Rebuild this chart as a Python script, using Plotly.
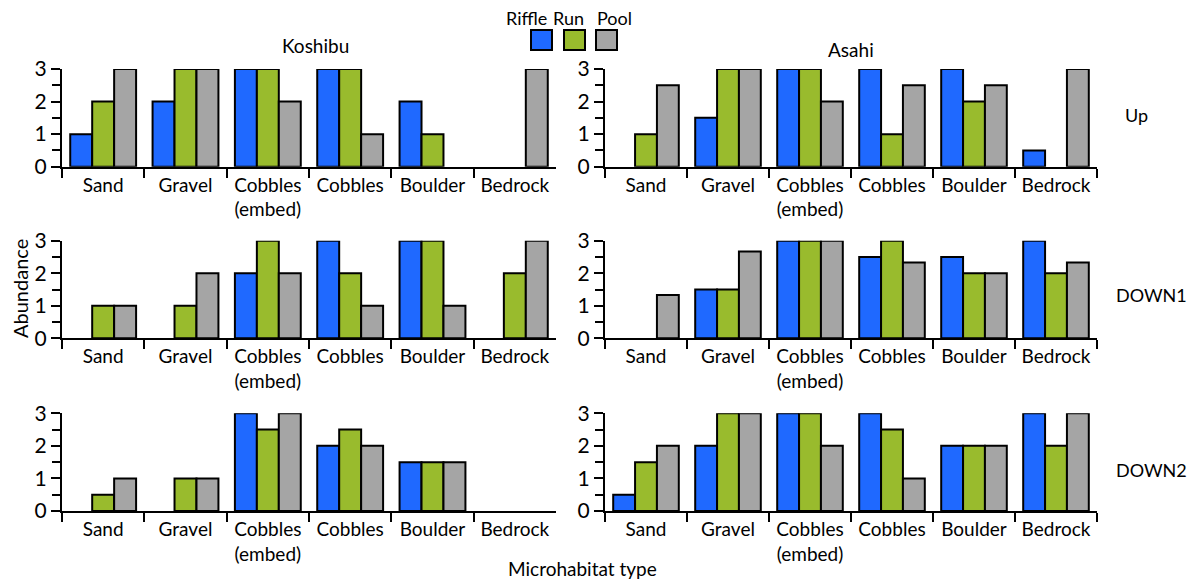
import plotly.graph_objects as go

W, H = 1195, 583
OFF = 8  # page body margin
WF, HF = W - OFF, H - OFF

categories = ["Sand", "Gravel", "Cobbles<br>(embed)", "Cobbles", "Boulder", "Bedrock"]
series_names = ["Riffle", "Run", "Pool"]
colors = ["#1f69ff", "#99bb2d", "#a5a5a5"]
sites = ["Koshibu", "Asahi"]
positions = ["Up", "DOWN1", "DOWN2"]

# Koshibu values (Riffle, Run, Pool) per category
koshibu_up_riffle = [1, 2, 3, 3, 2, 0]
koshibu_up_run = [2, 3, 3, 3, 1, 0]
koshibu_up_pool = [3, 3, 2, 1, 0, 3]

koshibu_down1_riffle = [0, 0, 2, 3, 3, 0]
koshibu_down1_run = [1, 1, 3, 2, 3, 2]
koshibu_down1_pool = [1, 2, 2, 1, 1, 3]

koshibu_down2_riffle = [0, 0, 3, 2, 1.5, 0]
koshibu_down2_run = [0.5, 1, 2.5, 2.5, 1.5, 0]
koshibu_down2_pool = [1, 1, 3, 2, 1.5, 0]

# Asahi values
asahi_up_riffle = [0, 1.5, 3, 3, 3, 0.5]
asahi_up_run = [1, 3, 3, 1, 2, 0]
asahi_up_pool = [2.5, 3, 2, 2.5, 2.5, 3]

asahi_down1_riffle = [0, 1.5, 3, 2.5, 2.5, 3]
asahi_down1_run = [0, 1.5, 3, 3, 2, 2]
asahi_down1_pool = [1.33, 2.67, 3, 2.33, 2, 2.33]

asahi_down2_riffle = [0.5, 2, 3, 3, 2, 3]
asahi_down2_run = [1.5, 3, 3, 2.5, 2, 2]
asahi_down2_pool = [2, 3, 2, 1, 2, 3]

panels = {
    (0, 0): [koshibu_up_riffle, koshibu_up_run, koshibu_up_pool],
    (1, 0): [koshibu_down1_riffle, koshibu_down1_run, koshibu_down1_pool],
    (2, 0): [koshibu_down2_riffle, koshibu_down2_run, koshibu_down2_pool],
    (0, 1): [asahi_up_riffle, asahi_up_run, asahi_up_pool],
    (1, 1): [asahi_down1_riffle, asahi_down1_run, asahi_down1_pool],
    (2, 1): [asahi_down2_riffle, asahi_down2_run, asahi_down2_pool],
}

FONT = "Lato"


def px(x):
    return (x - OFF) / WF


def py(y):
    return 1 - (y - OFF) / HF


col_x = [(62, 556), (605, 1097)]
row_y = [(69, 166.7), (240.7, 338.3), (413.3, 511)]

fig = go.Figure()
layout = dict(
    template="none",
    width=WF, height=HF,
    margin=dict(l=0, r=0, t=0, b=0, pad=0, autoexpand=False),
    paper_bgcolor="white", plot_bgcolor="white",
    barmode="group", bargap=0.2, bargroupgap=0,
    showlegend=False,
    font=dict(family=FONT, size=18, color="black"),
)

idx = 0
for r in range(3):
    for c in range(2):
        idx += 1
        xa = "x" if idx == 1 else f"x{idx}"
        ya = "y" if idx == 1 else f"y{idx}"
        vals = panels[(r, c)]
        for s in range(3):
            fig.add_trace(go.Bar(
                x=categories, y=vals[s], name=series_names[s],
                marker=dict(color=colors[s],
                            line=dict(color="black", width=[2 if v > 0 else 0 for v in vals[s]])),
                xaxis=xa, yaxis=ya, offsetgroup=str(s),
            ))
        x0, x1 = col_x[c]
        yt, yb = row_y[r]
        layout["xaxis" if idx == 1 else f"xaxis{idx}"] = dict(
            domain=[px(x0), px(x1)], anchor=ya, automargin=False,
            type="category", categoryorder="array", categoryarray=categories,
            range=[-0.5, 5.5],
            showline=True, linecolor="black", linewidth=2,
            ticks="outside", tickson="boundaries", ticklen=9, tickwidth=2, tickcolor="black",
            tickfont=dict(family=FONT, size=19), showgrid=False, zeroline=False,
            fixedrange=True,
        )
        layout["yaxis" if idx == 1 else f"yaxis{idx}"] = dict(
            domain=[py(yb), py(yt)], anchor=xa, automargin=False,
            range=[0, 3], tickvals=[0, 1, 2, 3],
            showline=True, linecolor="black", linewidth=2,
            ticks="outside", ticklen=9, tickwidth=2, tickcolor="black",
            minor=dict(dtick=0.5, ticks="outside", ticklen=8, tickwidth=2, tickcolor="black", showgrid=False),
            tickfont=dict(family=FONT, size=21), showgrid=False, zeroline=False,
            fixedrange=True,
        )

fig.update_layout(**layout)

annotations = []


def label(text, x, y, size=18, angle=0):
    annotations.append(dict(text=text, x=px(x), y=py(y), xref="paper", yref="paper",
                            xanchor="center", yanchor="middle", showarrow=False, borderpad=0,
                            textangle=angle, font=dict(family=FONT, size=size, color="black")))


# panel titles
label("Koshibu", 316, 45, 19)
label("Asahi", 851, 50, 19)
# row labels
label("Up", 1136, 115)
label("DOWN1", 1151, 295)
label("DOWN2", 1151, 470)
# axis titles
label("Microhabitat type", 582, 568, 19)
label("Abundance", 20, 289, 20, -90)

# legend (labels above swatches)
shapes = []
legend_x = [(531, 552), (564, 585), (596, 617)]
legend_text_x = [526, 568, 615]
for s in range(3):
    a, b = legend_x[s]
    shapes.append(dict(type="rect", xref="paper", yref="paper",
                       x0=px(a), x1=px(b), y0=py(50), y1=py(30),
                       fillcolor=colors[s], line=dict(color="black", width=2)))
    label(series_names[s], legend_text_x[s], 18, 18)

fig.update_layout(annotations=annotations, shapes=shapes)

fig.write_html("out.html")
